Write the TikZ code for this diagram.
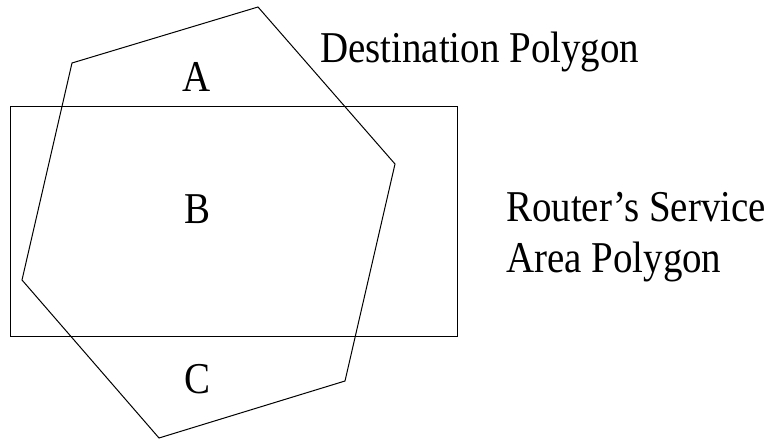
\documentclass[tikz,border=0pt]{standalone}
\usepackage{fontspec}
\setmainfont{Liberation Serif}
\newfontfamily\lblfont[FakeStretch=0.885]{Liberation Serif}
\begin{document}
\begin{tikzpicture}[x=1bp,y=-1bp,
  shape line/.style={draw=black, line width=1bp, line join=miter},
  lbl/.style={font=\lblfont\fontsize{44bp}{50bp}\selectfont, inner sep=0pt, anchor=base west}]
\useasboundingbox (0,0) rectangle (776,440);
% router's service area rectangle
\draw[shape line] (10,107) rectangle (457,337);
% destination polygon
\coordinate (p1) at (258,7);
\coordinate (p2) at (395,164);
\coordinate (p3) at (345,381);
\coordinate (p4) at (159,438);
\coordinate (p5) at (22,280);
\coordinate (p6) at (72,63);
\draw[shape line] (p1) -- (p2) -- (p3) -- (p4) -- (p5) -- (p6) -- cycle;
% labels
\node[lbl, anchor=base] (A) at (197,92) {A};
\node[lbl, anchor=base] (B) at (197,224) {B};
\node[lbl, anchor=base] (C) at (197,393) {C};
\node[lbl] (dest) at (320,63) {Destination Polygon};
\node[lbl] (rsa1) at (506,222) {Router’s Service};
\node[lbl] (rsa2) at (506,273) {Area Polygon};
\end{tikzpicture}
\end{document}
